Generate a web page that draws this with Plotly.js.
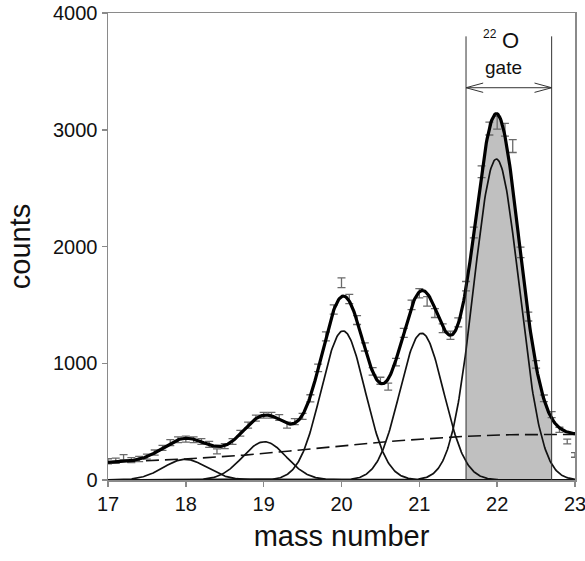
<!DOCTYPE html>
<html><head><meta charset="utf-8">
<script src="https://cdn.plot.ly/plotly-3.0.1.min.js"></script>
<style>html,body{margin:0;padding:0;background:#fff}#chart{width:585px;height:561px}</style>
</head><body><div id="chart"></div>
<script>
// measured spectrum (bin centres, counts, statistical errors)
const massBins = [17.0,17.1,17.2,17.3,17.4,17.5,17.6,17.7,17.8,17.9,
  18.0,18.1,18.2,18.3,18.4,18.5,18.6,18.7,18.8,18.9,
  19.0,19.1,19.2,19.3,19.4,19.5,19.6,19.7,19.8,19.9,
  20.0,20.1,20.2,20.3,20.4,20.5,20.6,20.7,20.8,20.9,
  21.0,21.1,21.2,21.3,21.4,21.5,21.6,21.7,21.8,21.9,
  22.0,22.1,22.2,22.3,22.4,22.5,22.6,22.7,22.8,22.9,23.0];
const counts = [160,165,195,170,180,200,235,275,320,345,
  350,345,330,305,245,290,330,400,470,530,
  555,555,535,470,500,545,700,960,1230,1460,
  1690,1550,1370,1140,930,850,800,1010,1260,1500,
  1600,1530,1430,1300,1240,1350,1660,2120,2640,3010,
  3060,3000,2860,1950,1400,990,700,560,430,330,215];
const countErrors = [22,22,22,22,22,22,22,22,25,25,
  25,25,25,25,22,22,25,25,25,25,
  25,25,25,25,25,25,30,32,38,40,
  42,40,38,35,32,30,30,32,38,40,
  40,40,38,38,36,38,40,46,50,55,
  55,55,55,45,38,32,28,25,22,20,20];

// fitted Gaussian components
const peakCenters = [17.99, 19.01, 20.02, 21.03, 21.99];
const peakAmplitudes = [177, 328, 1277, 1257, 2749];
const peakSigmas = [0.28, 0.28, 0.28, 0.28, 0.29];

// fitted background (dashed curve)
const bkgMass = [17,17.5,18,18.5,19,19.5,20,20.5,21,21.5,22,22.5,23];
const bkgCounts = [150,162,180,200,225,260,295,325,350,372,386,392,390];

// 22O gate
const gateLow = 21.6, gateHigh = 22.7;
const xTicks = [17,18,19,20,21,22,23];
const yTicks = [0,1000,2000,3000,4000];

function bkgAt(x){
  for(let i=0;i<bkgMass.length-1;i++){
    if(x<=bkgMass[i+1]){
      const t=(x-bkgMass[i])/(bkgMass[i+1]-bkgMass[i]);
      return bkgCounts[i]+t*(bkgCounts[i+1]-bkgCounts[i]);
    }
  }
  return bkgCounts[bkgCounts.length-1];
}
function gauss(i,x){
  const d=x-peakCenters[i];
  return peakAmplitudes[i]*Math.exp(-d*d/(2*peakSigmas[i]*peakSigmas[i]));
}
function total(x){
  let s=bkgAt(x);
  for(let i=0;i<peakCenters.length;i++) s+=gauss(i,x);
  return s;
}
const grid=[];
for(let k=0;k<=600;k++) grid.push(+(17+k*0.01).toFixed(2));
const gateGrid = grid.filter(x=>x>=gateLow-1e-9 && x<=gateHigh+1e-9);

const traces=[];
traces.push({x:gateGrid, y:gateGrid.map(total), mode:'lines', fill:'tozeroy',
  fillcolor:'#c0c0c0', line:{width:0, color:'rgba(0,0,0,0)'}, hoverinfo:'skip'});
traces.push({x:grid, y:grid.map(bkgAt), mode:'lines',
  line:{color:'#111', width:1.6, dash:'13px,6px'}, hoverinfo:'skip'});
for(let i=0;i<peakCenters.length;i++){
  traces.push({x:grid, y:grid.map(x=>gauss(i,x)), mode:'lines',
    line:{color:'#111', width:1.7}, hoverinfo:'skip'});
}
traces.push({x:massBins, y:counts, mode:'markers',
  marker:{size:1, color:'rgba(0,0,0,0)'},
  error_y:{type:'data', array:countErrors, visible:true, color:'#6a6a6a', thickness:1.3, width:4}});
traces.push({x:grid, y:grid.map(total), mode:'lines',
  line:{color:'#000', width:3.2}, hoverinfo:'skip'});

const axisCommon = {showline:true, linecolor:'#8a8a8a', linewidth:1.5, mirror:true,
  ticks:'outside', ticklen:5, tickcolor:'#8a8a8a', tickwidth:1.5,
  showgrid:false, zeroline:false, tickfont:{size:20, color:'#111'},
  ticklabeloverflow:'allow'};

const arrowY = 3360, headDx = 0.22, headDy = 40;
const layout = {
  width:585, height:561,
  margin:{l:108, r:10, t:13, b:81},
  paper_bgcolor:'#fff', plot_bgcolor:'#fff', showlegend:false,
  font:{family:'Liberation Sans, Arial, sans-serif', color:'#111'},
  xaxis:Object.assign({}, axisCommon, {range:[17,23], tickvals:xTicks,
    title:{text:'mass number', font:{size:29, color:'#111'}, standoff:12}}),
  yaxis:Object.assign({}, axisCommon, {range:[0,4000], tickvals:yTicks,
    title:{text:'counts', font:{size:29, color:'#111'}, standoff:14}}),
  shapes:[
    {type:'line', xref:'x', yref:'y', x0:gateLow, x1:gateLow, y0:0, y1:3800, line:{color:'#333', width:1}},
    {type:'line', xref:'x', yref:'y', x0:gateHigh, x1:gateHigh, y0:0, y1:3800, line:{color:'#333', width:1}},
    {type:'line', xref:'x', yref:'y', x0:gateLow, x1:gateHigh, y0:arrowY, y1:arrowY, line:{color:'#333', width:1}},
    {type:'path', xref:'x', yref:'y', path:`M ${gateLow+headDx} ${arrowY+headDy} L ${gateLow} ${arrowY} L ${gateLow+headDx} ${arrowY-headDy}`, line:{color:'#333', width:1}},
    {type:'path', xref:'x', yref:'y', path:`M ${gateHigh-headDx} ${arrowY+headDy} L ${gateHigh} ${arrowY} L ${gateHigh-headDx} ${arrowY-headDy}`, line:{color:'#333', width:1}}
  ],
  annotations:[
    {xref:'x', yref:'y', x:21.91, y:3816, text:'22', showarrow:false, font:{size:12, color:'#111'}},
    {xref:'x', yref:'y', x:22.165, y:3764, text:'O', showarrow:false, font:{size:22, color:'#111'}},
    {xref:'x', yref:'y', x:22.08, y:3531, text:'gate', showarrow:false, font:{size:19, color:'#111'}}
  ]
};
Plotly.newPlot('chart', traces, layout, {staticPlot:true, displayModeBar:false});
</script></body></html>
